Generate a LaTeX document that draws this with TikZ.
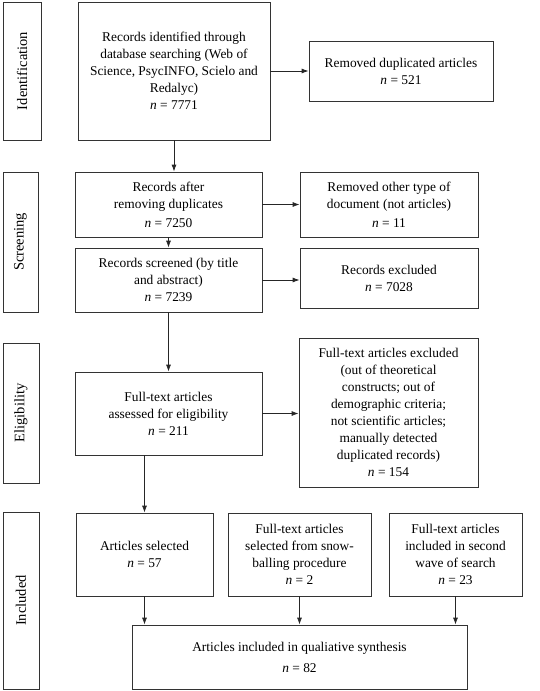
\documentclass[tikz,border=0pt]{standalone}
\usepackage{fontspec}
\setmainfont{Liberation Serif}
\usetikzlibrary{arrows.meta,calc}
\newcommand{\nn}{\textit{n}}
\begin{document}
\begin{tikzpicture}[x=1pt,y=-1pt,
  every node/.style={font=\fontsize{13.4}{17}\selectfont},
  box/.style={draw=black!80,line width=0.8pt,align=center,inner sep=2pt},
  lab/.style={draw=black!80,line width=0.8pt,inner sep=0pt},
  side/.style={rotate=90,font=\fontsize{14.5}{17}\selectfont},
  arr/.style={draw=black!85,line width=0.8pt,-{Latex[length=7pt,width=5pt]}}]
\useasboundingbox (0,0) rectangle (540,691);
% side labels
\node[lab,minimum width=38,minimum height=138] (idlab) at (22,71) {};
\node[side] (idtxt) at (idlab.center) {Identification};
\node[lab,minimum width=35,minimum height=140] (scrlab) at (20.5,242) {};
\node[side] (scrtxt) at (scrlab.center) {Screening};
\node[lab,minimum width=36,minimum height=140] (elilab) at (21,413) {};
\node[side] (elitxt) at (elilab.center) {Eligibility};
\node[lab,minimum width=36,minimum height=177] (inclab) at (21,600.5) {};
\node[side] (inctxt) at (inclab.center) {Included};
% main column
\node[box,minimum width=192,minimum height=138] (b1) at (174,71)
  {Records identified through\\database searching (Web of\\Science, PsycINFO, Scielo and\\Redalyc)\\\nn{} = 7771};
\node[box,minimum width=184,minimum height=60] (r1) at (401,71)
  {Removed duplicated articles\\\nn{} = 521};
\node[box,minimum width=187,minimum height=65] (b2) at (168.5,204.5)
  {Records after\\removing duplicates\\[2pt]\nn{} = 7250};
\node[box,minimum width=178,minimum height=65] (r2) at (389,204.5)
  {Removed other type of\\document (not articles)\\[2pt]\nn{} = 11};
\node[box,minimum width=187,minimum height=64] (b3) at (168.5,280)
  {Records screened (by title\\and abstract)\\\nn{} = 7239};
\node[box,minimum width=178,minimum height=60] (r3) at (389,278)
  {Records excluded\\\nn{} = 7028};
\node[box,minimum width=187,minimum height=83] (b4) at (168.5,413.5)
  {Full-text articles\\assessed for eligibility\\\nn{} = 211};
\node[box,minimum width=179,minimum height=149] (r4) at (388.5,412.5)
  {Full-text articles excluded\\(out of theoretical\\constructs; out of\\demographic criteria;\\not scientific articles;\\manually detected\\duplicated records)\\\nn{} = 154};
\node[box,minimum width=137,minimum height=83] (b5) at (144.5,554.5)
  {Articles selected\\\nn{} = 57};
\node[box,minimum width=143,minimum height=83] (b6) at (299.5,554.5)
  {Full-text articles\\selected from snow-\\balling procedure\\\nn{} = 2};
\node[box,minimum width=133,minimum height=83] (b7) at (455.5,554.5)
  {Full-text articles\\included in second\\wave of search\\\nn{} = 23};
\node[box,minimum width=335,minimum height=64] (b8) at (299.5,657)
  {Articles included in qualiative synthesis\\[4pt]\nn{} = 82};
% arrows
\draw[arr] (b1.east) -- (r1.west);
\draw[arr] (b1.south) -- (b1.south |- b2.north);
\draw[arr] (b2.east) -- (b2.east -| r2.west);
\draw[arr] (b2.south) -- (b2.south |- b3.north);
\draw[arr] (b3.east) -- (b3.east -| r3.west);
\draw[arr] (b3.south) -- (b3.south |- b4.north);
\draw[arr] (b4.east) -- (b4.east -| r4.west);
\draw[arr] (b5.north |- b4.south) -- (b5.north);
\draw[arr] (b5.south) -- (b5.south |- b8.north);
\draw[arr] (b6.south) -- (b6.south |- b8.north);
\draw[arr] (b7.south) -- (b7.south |- b8.north);
\end{tikzpicture}
\end{document}
